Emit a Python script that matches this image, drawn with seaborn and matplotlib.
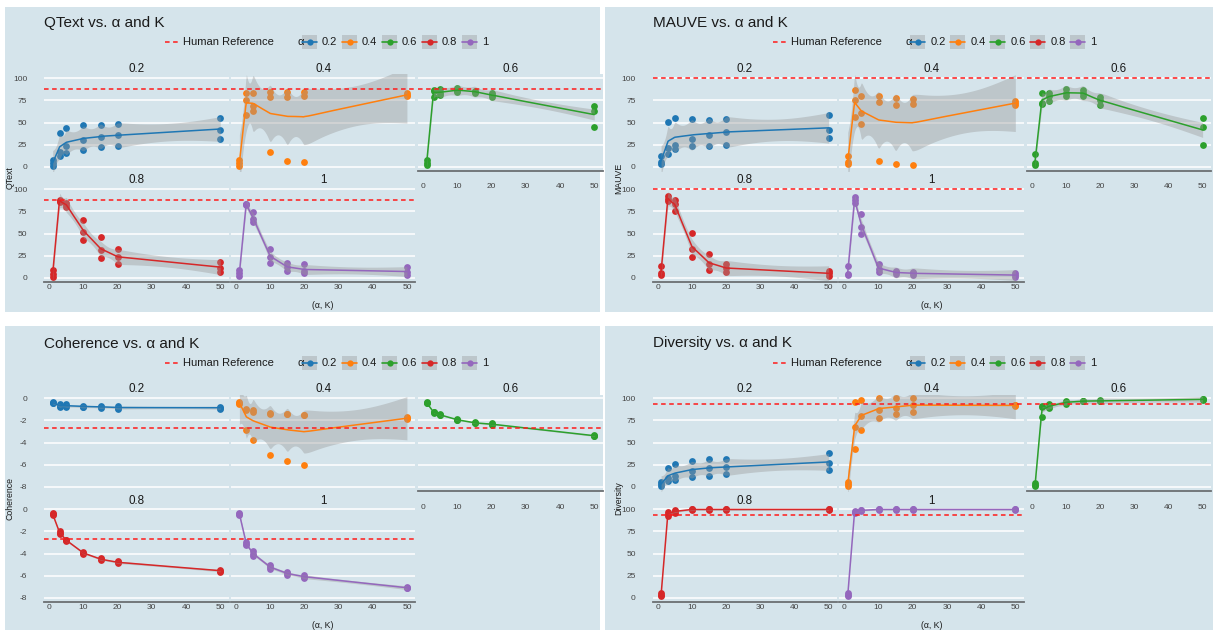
import numpy as np
import pandas as pd
import matplotlib
matplotlib.use("Agg")
import matplotlib.pyplot as plt
from matplotlib.patches import Rectangle
import seaborn as sns

# ---------------- data ----------------
K_VALUES = [1, 3, 5, 10, 15, 20, 50]
ALPHAS = [0.2, 0.4, 0.6, 0.8, 1]
ALPHA_LABELS = ["0.2", "0.4", "0.6", "0.8", "1"]

QTEXT_A02 = [[8, 4, 1], [38, 17, 12], [44, 23, 16], [47, 30, 19], [47, 34, 22], [48, 36, 23], [55, 42, 31]]
QTEXT_A04 = [[8, 4, 1], [83, 76, 58], [83, 69, 63], [85, 79, 17], [85, 79, 7], [85, 80, 5], [83, 81, 80]]
QTEXT_A06 = [[8, 4.5, 1.5], [87, 86, 79], [88, 84, 81], [89, 86, 85], [86, 85, 84], [83, 81, 79], [69, 63, 45]]
QTEXT_A08 = [[9, 4, 1], [88, 87, 86], [85, 82, 80], [65, 52, 43], [46, 31, 22], [32, 23, 16], [18, 11, 7]]
QTEXT_A10 = [[9, 5, 2], [84, 83, 82], [74, 66, 63], [32, 24, 17], [17, 12, 8], [15, 8, 5], [12, 6, 3]]

MAUVE_A02 = [[12, 5, 3], [51, 21, 14], [55, 25, 20], [54, 31, 23], [53, 36, 24], [54, 39, 25], [59, 41, 32]]
MAUVE_A04 = [[12, 5, 3], [87, 75, 56], [80, 61, 48], [80, 73, 6], [78, 70, 3], [77, 71, 1.5], [74, 72, 70]]
MAUVE_A06 = [[14, 4, 2], [83, 72, 71], [84, 80, 74], [88, 83, 80], [87, 83, 80], [79, 76, 70], [55, 45, 25]]
MAUVE_A08 = [[13, 5, 3], [92, 89, 87], [88, 84, 76], [51, 32, 23], [27, 15, 9], [16, 11, 6], [8, 5, 2]]
MAUVE_A10 = [[13, 4, 3], [91, 88, 85], [72, 57, 49], [16, 10, 7], [8, 6, 4], [7, 5, 3], [5, 3, 1]]

COH_A02 = [[-0.3, -0.4, -0.45], [-0.5, -0.8, -0.7], [-0.5, -0.8, -0.7], [-0.65, -0.8, -0.75],
           [-0.65, -0.9, -0.75], [-0.7, -0.95, -0.85], [-0.75, -0.95, -0.85]]
COH_A04 = [[-0.3, -0.4, -0.5], [-1.0, -1.1, -2.9], [-1.1, -1.2, -3.8], [-1.3, -1.4, -5.1],
           [-1.4, -1.45, -5.7], [-1.5, -1.55, -6.0], [-1.7, -1.9, -1.8]]
COH_A06 = [[-0.33, -0.45, -0.4], [-1.2, -1.33, -1.25], [-1.45, -1.55, -1.5], [-1.88, -2.0, -1.95],
           [-2.18, -2.27, -2.2], [-2.27, -2.42, -2.35], [-3.3, -3.45, -3.4]]
COH_A08 = [[-0.36, -0.5, -0.45], [-2.0, -2.2, -2.1], [-2.75, -2.87, -2.8], [-3.83, -4.07, -3.95],
           [-4.43, -4.6, -4.5], [-4.7, -4.9, -4.8], [-5.45, -5.66, -5.55]]
COH_A10 = [[-0.36, -0.48, -0.4], [-2.96, -3.26, -3.1], [-3.8, -4.22, -4.0], [-5.06, -5.42, -5.2],
           [-5.63, -5.99, -5.8], [-5.96, -6.26, -6.1], [-7.04, -7.16, -7.1]]

DIV_A02 = [[5, 3, 1], [21, 10, 6], [26, 12, 8], [29, 18, 11], [31, 21, 12], [31, 22, 14], [38, 27, 19]]
DIV_A04 = [[5, 3, 1], [96, 67, 43], [98, 80, 64], [100, 87, 78], [100, 89, 82], [100, 92, 85], [93, 91, 92]]
DIV_A06 = [[4, 2, 0.5], [91, 79, 90], [94, 90, 89], [97, 95.5, 94], [97, 96.5, 97], [98, 96.5, 97], [99, 98.5, 99]]
DIV_A08 = [[5, 3, 1.5], [97, 95, 93], [99, 98, 96], [100, 99.6, 100], [100, 99.6, 100], [100, 99.6, 100], [100, 99.6, 100]]
DIV_A10 = [[5, 3, 1.5], [98, 97, 96], [99.6, 98, 99], [100, 99.6, 100], [100, 99.6, 100], [100, 99.6, 100], [100, 99.6, 100]]

QTEXT_REF = 87.5
MAUVE_REF = 100
COH_REF = -2.7
DIV_REF = 94

METRICS = ["QText", "MAUVE", "Coherence", "Diversity"]
SERIES = {
    "QText": [QTEXT_A02, QTEXT_A04, QTEXT_A06, QTEXT_A08, QTEXT_A10],
    "MAUVE": [MAUVE_A02, MAUVE_A04, MAUVE_A06, MAUVE_A08, MAUVE_A10],
    "Coherence": [COH_A02, COH_A04, COH_A06, COH_A08, COH_A10],
    "Diversity": [DIV_A02, DIV_A04, DIV_A06, DIV_A08, DIV_A10],
}
REFS = {"QText": QTEXT_REF, "MAUVE": MAUVE_REF, "Coherence": COH_REF, "Diversity": DIV_REF}

rows = []
for m in METRICS:
    for a, lab, ser in zip(ALPHAS, ALPHA_LABELS, SERIES[m]):
        for k, vals in zip(K_VALUES, ser):
            for v in vals:
                rows.append({"metric": m, "alpha": lab, "K": k, "value": v})
df = pd.DataFrame(rows)

# ---------------- styling ----------------
BG = "#d5e4eb"
COLORS = ["#1f77b4", "#ff7f0e", "#2ca02c", "#d62728", "#9467bd"]
REF_COLOR = "#ff1a1a"
RIBBON = "#999999"
RIBBON_KEY = "#bcc6cb"

sns.set_theme(style="white")
plt.rcParams["font.family"] = ["Liberation Sans", "DejaVu Sans"]
plt.rcParams["axes.unicode_minus"] = False

YLIM = {"QText": (-4.5, 104.6), "MAUVE": (-4.5, 104.6),
        "Coherence": (-8.41, 0.32), "Diversity": (-5.1, 104.0)}
YTICKS = {"QText": [0, 25, 50, 75, 100], "MAUVE": [0, 25, 50, 75, 100],
          "Coherence": [-8, -6, -4, -2, 0], "Diversity": [0, 25, 50, 75, 100]}


def smooth(x, y, xg, bw=0.3):
    """Local linear kernel smoother (on the rank scale of the design points)
    with pointwise standard errors, in the spirit of geom_smooth(loess)."""
    x = np.asarray(x, float)
    y = np.asarray(y, float)
    ux = np.unique(x)
    tx = np.interp(x, ux, np.arange(len(ux)))

    def lvec(x0):
        t0 = np.interp(x0, ux, np.arange(len(ux)))
        w = np.exp(-0.5 * ((tx - t0) / bw) ** 2)
        X = np.column_stack([np.ones_like(tx), tx - t0])
        XtW = X.T * w
        return (np.linalg.pinv(XtW @ X) @ XtW)[0]

    L = np.array([lvec(v) for v in x])
    R = np.eye(len(x)) - L
    delta1 = np.trace(R.T @ R)
    sigma = np.sqrt(np.sum((R @ y) ** 2) / max(delta1, 1e-9))
    Lg = np.array([lvec(v) for v in xg])
    fit = Lg @ y
    se = sigma * np.sqrt(np.sum(Lg ** 2, axis=1))
    return fit, fit - 1.96 * se, fit + 1.96 * se


W, H = 1213, 630
fig = plt.figure(figsize=(W / 100, H / 100), dpi=100, facecolor="white")
bgax = fig.add_axes([0, 0, 1, 1])
bgax.set_xlim(0, W)
bgax.set_ylim(H, 0)
bgax.axis("off")

for (x0, x1, y0, y1) in [(5, 600, 7, 312), (605, 1213, 7, 312), (5, 600, 326, 630), (605, 1213, 326, 630)]:
    bgax.add_patch(Rectangle((x0, y0), x1 - x0, y1 - y0, color=BG, lw=0, zorder=0))

COL_L = [44.3, 231.0, 418.3]
COL_W = 184.3
ROW_T = [74.3, 185.3]
ROW_H = 96.4
OFFSETS = {"QText": (0, 0), "MAUVE": (608.4, 0), "Coherence": (0, 320.5), "Diversity": (608.4, 320.5)}
xg = np.linspace(1, 50, 240)

for m in METRICS:
    dx, dy = OFFSETS[m]
    for i, lab in enumerate(ALPHA_LABELS):
        r, c = divmod(i, 3)
        left = dx + COL_L[c]
        top = dy + ROW_T[r]
        ax = fig.add_axes([left / W, 1 - (top + ROW_H) / H, COL_W / W, ROW_H / H])
        ax.set_facecolor(BG)
        sub = df[(df.metric == m) & (df.alpha == lab)]
        col = COLORS[i]

        sns.scatterplot(data=sub, x="K", y="value", color=col, s=24, linewidth=0,
                        ax=ax, zorder=3, legend=False)
        fit, lo, hi = smooth(sub["K"].values, sub["value"].values, xg)
        ax.fill_between(xg, lo, hi, color=RIBBON, alpha=0.4, lw=0, zorder=4)
        sns.lineplot(x=xg, y=fit, color=col, lw=1.1, ax=ax, zorder=5, legend=False)
        ax.axhline(REFS[m], color=REF_COLOR, lw=1.1, dashes=(3.0, 2.3), zorder=6)

        ax.set_xlim(-1.45, 52.45)
        ax.set_ylim(*YLIM[m])
        ax.set_yticks(YTICKS[m])
        ax.set_yticklabels([str(t) for t in YTICKS[m]])
        ax.yaxis.grid(True, color="white", lw=1.1)
        ax.xaxis.grid(False)
        ax.set_axisbelow(True)
        ax.set_xlabel("")
        ax.set_ylabel("")
        for s in ["top", "right", "left"]:
            ax.spines[s].set_visible(False)

        show_x = (r == 1) or (c == 2)
        ax.set_xticks([0, 10, 20, 30, 40, 50])
        if show_x:
            ax.spines["bottom"].set_visible(True)
            ax.spines["bottom"].set_color("#6b6f72")
            ax.spines["bottom"].set_linewidth(1.3)
            ax.tick_params(axis="x", direction="in", length=3.5, width=0.8, color="#333333",
                           labelsize=6, labelcolor="#444444", pad=(1.5 if r == 1 else 9))
        else:
            ax.spines["bottom"].set_visible(False)
            ax.tick_params(axis="x", bottom=False, labelbottom=False)
        ax.tick_params(axis="y", left=False, labelleft=(c == 0), labelsize=6,
                       labelcolor="#444444", pad=6.2)

        ax.text(0.5, 1 + 5.3 / ROW_H, lab, transform=ax.transAxes, ha="center",
                va="center", fontsize=8.4, color="#1a1a1a")

    # title
    bgax.text(dx + 44.3, dy + 23, f"{m} vs. \u03b1 and K", fontsize=11, va="center",
              ha="left", color="#1a1a1a", zorder=5)
    # legend
    LY = dy + 42
    bgax.plot([dx + 165, dx + 178], [LY, LY], color=REF_COLOR, lw=1.1, dashes=(3.0, 2.3), zorder=5)
    bgax.text(dx + 183, LY, "Human Reference", fontsize=8, va="center", ha="left",
              color="#1a1a1a", zorder=5)
    bgax.text(dx + 297, LY, "\u03b1", fontsize=8, va="center", ha="left", color="#1a1a1a", zorder=5)
    for j, lab in enumerate(ALPHA_LABELS):
        bx = dx + 302 + 40 * j
        bgax.add_patch(Rectangle((bx, LY - 7), 15, 14, color=RIBBON_KEY, lw=0, zorder=4))
        bgax.plot([bx, bx + 15], [LY, LY], color=COLORS[j], lw=1.2, zorder=5)
        bgax.plot([bx + 7.5], [LY], "o", color=COLORS[j], ms=4.5, mew=0, zorder=6)
        bgax.text(bx + 20, LY, lab, fontsize=8, va="center", ha="left", color="#1a1a1a", zorder=5)
    # axis titles
    bgax.text(dx + 10, dy + 178, m, rotation=90, fontsize=6.3, ha="center", va="center",
              color="#1a1a1a", zorder=5)
    bgax.text(dx + 323, dy + 305, "(\u03b1, K)", fontsize=6.3, ha="center", va="center",
              color="#1a1a1a", zorder=5)

fig.savefig("out.png", dpi=100, facecolor="white")
